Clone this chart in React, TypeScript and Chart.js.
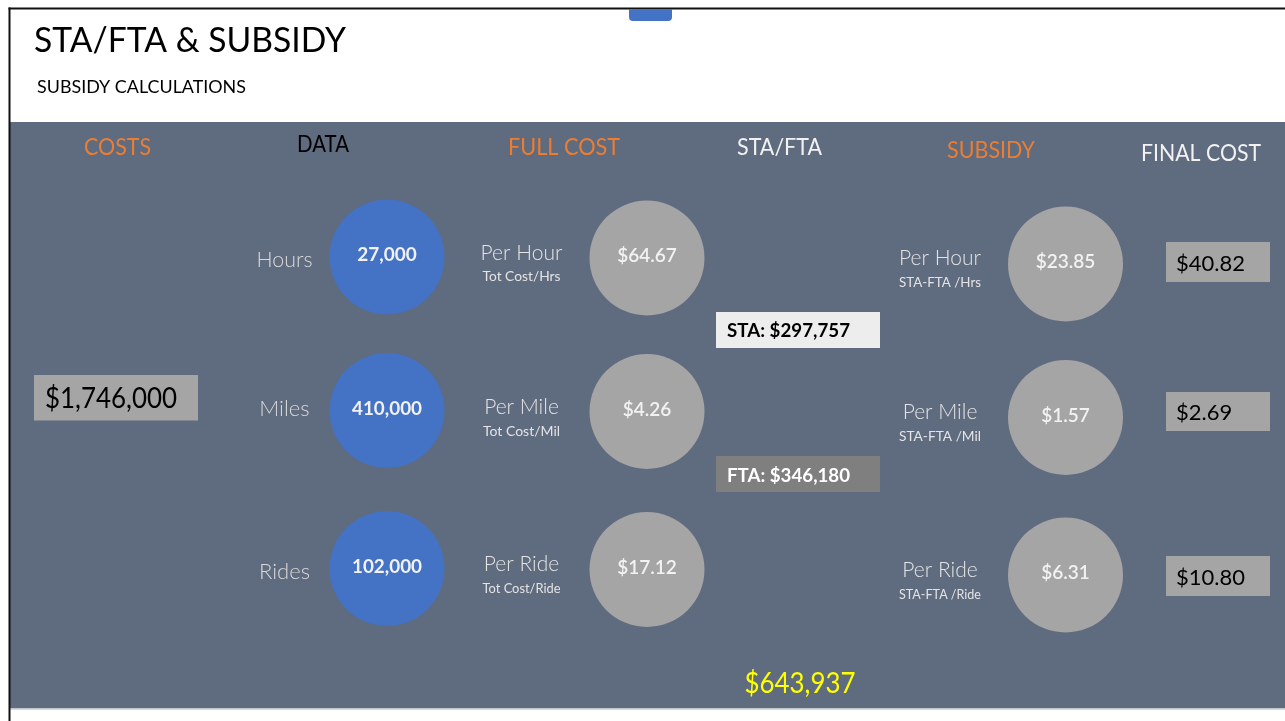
import React, { useEffect, useRef } from "react";
import { Chart, registerables } from "chart.js";

Chart.register(...registerables);

// ---------- data ----------
const headers = ["COSTS", "DATA", "FULL COST", "STA/FTA", "SUBSIDY", "FINAL COST"];
const rowLabels = ["Hours", "Miles", "Rides"];
const rateLabels = ["Per Hour", "Per Mile", "Per Ride"];
const fullCostFormulas = ["Tot Cost/Hrs", "Tot Cost/Mil", "Tot Cost/Ride"];
const subsidyFormulas = ["STA-FTA /Hrs", "STA-FTA /Mil", "STA-FTA /Ride"];
const dataValues = [27000, 410000, 102000];
const fullCostValues = [64.67, 4.26, 17.12];
const subsidyValues = [23.85, 1.57, 6.31];
const finalCostValues = [40.82, 2.69, 10.8];
const totalCost = 1746000;
const staAmount = 297757;
const ftaAmount = 346180;
const subsidyTotal = 643937;
const titleText = "STA/FTA & SUBSIDY";
const subtitleText = "SUBSIDY CALCULATIONS";

// ---------- layout (canvas units) ----------
const W = 1285;
const H = 721;
const R = 57.5;
const DATA_CX = 387;
const FULL_CX = 647;
const SUB_CX = 1065.5;
const DATA_CY = [257, 410.5, 568.5];
const FULL_CY = [258, 411.5, 569.5];
const SUB_CY = [264, 417.5, 575];
const FONT = "Lato, 'Open Sans', 'Noto Sans', sans-serif";

const int = (v: number) => v.toLocaleString("en-US");
const money = (v: number) => "$" + v.toFixed(2);
const moneyInt = (v: number) => "$" + v.toLocaleString("en-US");

export default function App() {
  const ref = useRef<HTMLCanvasElement | null>(null);

  useEffect(() => {
    const canvas = ref.current;
    if (!canvas) return;

    const slidePlugin = {
      id: "slide",
      beforeDraw(chart: any) {
        const ctx = chart.ctx;
        const X = (v: number) => chart.scales.x.getPixelForValue(v);
        const Y = (v: number) => chart.scales.y.getPixelForValue(v);
        ctx.save();
        ctx.fillStyle = "#ffffff";
        ctx.fillRect(0, 0, W, H);
        // panel
        ctx.fillStyle = "#5f6b7f";
        ctx.fillRect(X(10), Y(122), X(1285) - X(10), Y(708.5) - Y(122));
        ctx.fillStyle = "#d6d9de";
        ctx.fillRect(X(10), Y(708.5), X(1285) - X(10), 1.5);
        // border
        ctx.fillStyle = "#111111";
        ctx.fillRect(X(8.5), Y(7.5), 2, H);
        ctx.fillRect(X(8.5), Y(7.5), W, 2);
        // tab
        ctx.fillStyle = "#4472c4";
        ctx.beginPath();
        (ctx as any).roundRect(X(629), Y(9), X(672) - X(629), Y(21) - Y(9), [0, 0, 4, 4]);
        ctx.fill();
        ctx.restore();
      },
      afterDatasetsDraw(chart: any) {
        const ctx = chart.ctx;
        const X = (v: number) => chart.scales.x.getPixelForValue(v);
        const Y = (v: number) => chart.scales.y.getPixelForValue(v);
        const text = (
          t: string,
          x: number,
          y: number,
          size: number,
          color: string,
          align: CanvasTextAlign = "center",
          weight = "400",
          maxW?: number
        ) => {
          ctx.font = `${weight} ${size}px ${FONT}`;
          ctx.fillStyle = color;
          ctx.textAlign = align;
          ctx.textBaseline = "alphabetic";
          if (maxW) ctx.fillText(t, X(x), Y(y), maxW);
          else ctx.fillText(t, X(x), Y(y));
        };
        const box = (x0: number, y0: number, x1: number, y1: number, color: string) => {
          ctx.fillStyle = color;
          ctx.fillRect(X(x0), Y(y0), X(x1) - X(x0), Y(y1) - Y(y0));
        };
        ctx.save();
        // title
        text(titleText, 34, 52, 35, "#000000", "left", "400", 312);
        text(subtitleText, 37, 93, 18, "#000000", "left", "400", 209);
        // headers
        const hx = [117.5, 323, 564, 779.5, 991, 1201];
        const hy = [155, 151.5, 155, 155, 158, 160.5];
        const hc = ["#ed7d31", "#000000", "#ed7d31", "#f2f2f2", "#ed7d31", "#f2f2f2"];
        const hw = [67, 52, 112, 85, 88, 120];
        headers.forEach((h, i) => text(h, hx[i], hy[i], 24, hc[i], "center", "400", hw[i]));

        // total cost box
        box(34, 375, 198, 420.5, "#a5a5a5");
        text(moneyInt(totalCost), 45, 408, 28, "#000000", "left", "400", 132);

        // row labels
        const rly = [266.5, 416, 579];
        rowLabels.forEach((l, i) => text(l, 284.5, rly[i], 22, "#d9d9d9", "center", "300", 56));

        // full cost labels
        const fly = [260, 414, 571];
        const fsy = [281, 436, 593];
        rateLabels.forEach((l, i) => {
          text(l, 521.5, fly[i], 21, "#e4e4e4", "center", "300", 85);
          text(fullCostFormulas[i], 521.5, fsy[i], 14, "#e4e4e4", "center", "400", 78);
        });
        // subsidy labels
        const sly = [265, 419, 577];
        const ssy = [287, 441, 599];
        rateLabels.forEach((l, i) => {
          text(l, 940, sly[i], 21, "#e4e4e4", "center", "300", 85);
          text(subsidyFormulas[i], 940, ssy[i], 14, "#e4e4e4", "center", "400", 82);
        });

        // circle values
        const drawVals = (dsIndex: number, fmt: (v: number) => string, weight: string) => {
          const meta = chart.getDatasetMeta(dsIndex);
          const ds = chart.data.datasets[dsIndex];
          meta.data.forEach((el: any, i: number) => {
            const v = (ds.data[i] as any).v;
            ctx.font = `${weight} 19px ${FONT}`;
            ctx.fillStyle = "#f2f2f2";
            ctx.textAlign = "center";
            ctx.textBaseline = "alphabetic";
            ctx.fillText(fmt(v), el.x, el.y + 4, 70);
          });
        };
        drawVals(0, int, "700");
        drawVals(1, money, "600");
        drawVals(2, money, "600");

        // STA / FTA boxes
        box(716, 312, 880, 348, "#ededed");
        text("STA: " + moneyInt(staAmount), 727, 337, 19, "#000000", "left", "700", 123);
        box(716, 456, 880, 492, "#7f7f7f");
        text("FTA: " + moneyInt(ftaAmount), 727, 481.5, 19, "#ffffff", "left", "700", 123);

        // final cost boxes
        const fby = [[242, 282], [392, 431], [556, 596]];
        const fty = [270.5, 419.5, 584.5];
        finalCostValues.forEach((v, i) => {
          box(1166, fby[i][0], 1270, fby[i][1], "#a5a5a5");
          text(money(v), 1176, fty[i], 22, "#000000", "left", "400");
        });

        // subsidy total
        text(moneyInt(subsidyTotal), 800, 693, 28, "#ffff00", "center", "400", 111);
        ctx.restore();
      },
    };

    const mk = (vals: number[], cx: number, cys: number[]) =>
      vals.map((v, i) => ({ x: cx, y: cys[i], r: R, v }));

    const chart = new Chart(canvas, {
      type: "bubble",
      data: {
        datasets: [
          { label: "Data", data: mk(dataValues, DATA_CX, DATA_CY) as any, backgroundColor: "#4472c4", borderWidth: 0 },
          { label: "Full cost", data: mk(fullCostValues, FULL_CX, FULL_CY) as any, backgroundColor: "#a5a5a5", borderWidth: 0 },
          { label: "Subsidy", data: mk(subsidyValues, SUB_CX, SUB_CY) as any, backgroundColor: "#a5a5a5", borderWidth: 0 },
        ],
      },
      options: {
        responsive: false,
        animation: false,
        events: [],
        layout: { padding: 0, autoPadding: false },
        plugins: { legend: { display: false }, tooltip: { enabled: false } },
        scales: {
          x: { type: "linear", min: 0, max: W, display: false },
          y: { type: "linear", min: 0, max: H, reverse: true, display: false },
        },
      },
      plugins: [slidePlugin],
    });

    let alive = true;
    if ((document as any).fonts) {
      Promise.all([
        (document as any).fonts.load(`400 20px Lato`),
        (document as any).fonts.load(`700 20px Lato`),
        (document as any).fonts.load(`300 20px Lato`),
      ]).then(() => {
        if (alive) chart.draw();
      }).catch(() => {});
    }
    return () => {
      alive = false;
      chart.destroy();
    };
  }, []);

  return (
    <div style={{ position: "fixed", left: 0, top: 0, width: W, height: H }}>
      <canvas ref={ref} width={W} height={H} style={{ width: W, height: H, display: "block" }} />
    </div>
  );
}
